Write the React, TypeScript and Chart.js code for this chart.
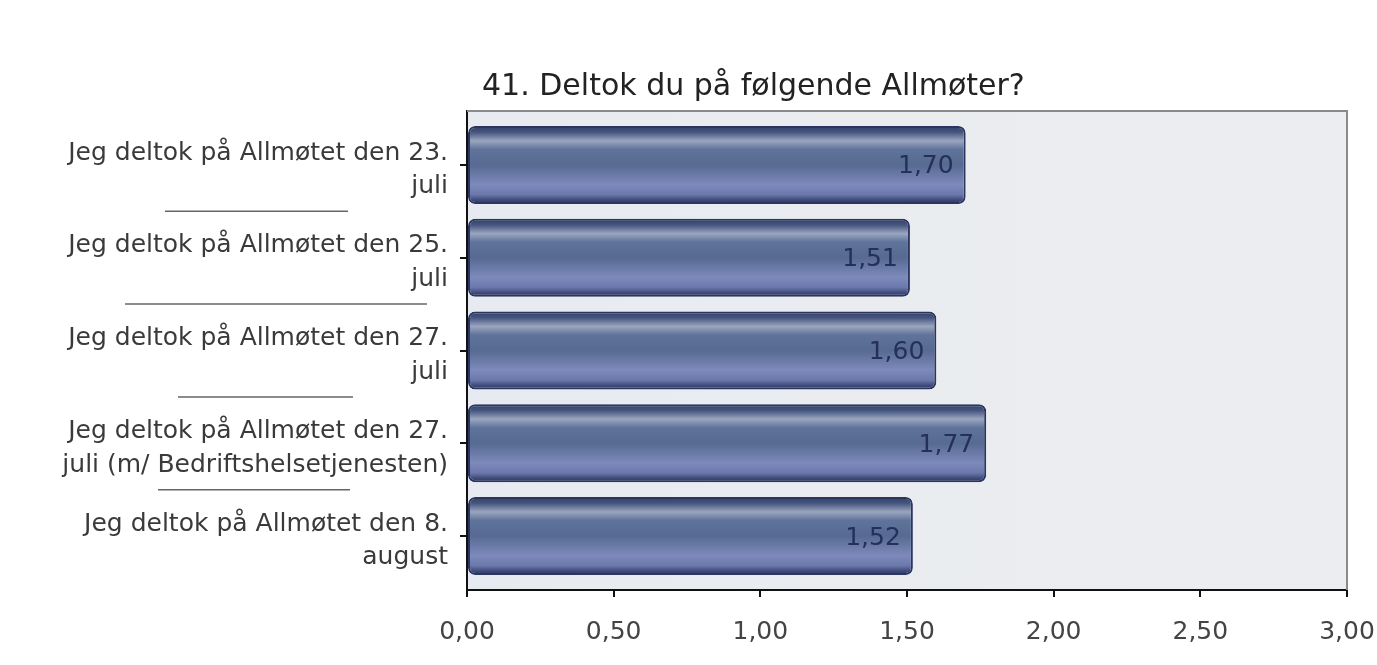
import React, { useEffect, useRef } from "react";
import { Chart, registerables } from "chart.js";

Chart.register(...registerables);

const TITLE = "41. Deltok du på følgende Allmøter?";
const CATEGORIES: string[][] = [
  ["Jeg deltok på Allmøtet den 23.", "juli"],
  ["Jeg deltok på Allmøtet den 25.", "juli"],
  ["Jeg deltok på Allmøtet den 27.", "juli"],
  ["Jeg deltok på Allmøtet den 27.", "juli (m/ Bedriftshelsetjenesten)"],
  ["Jeg deltok på Allmøtet den 8.", "august"],
];
const VALUES = [1.7, 1.51, 1.6, 1.77, 1.52];
const X_TICKS = [0, 0.5, 1, 1.5, 2, 2.5, 3];

const FONT = "'DejaVu Sans', 'Liberation Sans', sans-serif";
const fmt = (v: number) => v.toFixed(2).replace(".", ",");

const bgPlugin = {
  id: "bgPlugin",
  beforeDraw(chart: any) {
    const { ctx, chartArea: a } = chart;
    if (!a) return;
    ctx.save();
    const g = ctx.createLinearGradient(a.left, 0, a.right, 0);
    g.addColorStop(0, "#e7ebf1");
    g.addColorStop(0.6, "#eaecef");
    g.addColorStop(1, "#ebedf0");
    ctx.fillStyle = g;
    ctx.fillRect(a.left, a.top, a.right - a.left, a.bottom - a.top);
    ctx.restore();
  },
  afterDraw(chart: any) {
    const { ctx, chartArea: a } = chart;
    if (!a) return;
    ctx.save();
    ctx.strokeStyle = "#8a8a8a";
    ctx.lineWidth = 2;
    ctx.beginPath();
    ctx.moveTo(a.left, a.top);
    ctx.lineTo(a.right, a.top);
    ctx.lineTo(a.right, a.bottom);
    ctx.stroke();
    ctx.fillStyle = "#222";
    ctx.font = `30px ${FONT}`;
    ctx.textBaseline = "alphabetic";
    ctx.textAlign = "left";
    ctx.fillText(TITLE, a.left + 15, a.top - 16);
    const y = chart.scales.y;
    const seps = [
      [165, 348],
      [125, 427],
      [178, 353],
      [158, 350],
    ];
    ctx.strokeStyle = "#666";
    ctx.lineWidth = 1.5;
    for (let i = 0; i < seps.length; i++) {
      const yy = (y.getPixelForValue(i) + y.getPixelForValue(i + 1)) / 2;
      ctx.beginPath();
      ctx.moveTo(seps[i][0], yy);
      ctx.lineTo(seps[i][1], yy);
      ctx.stroke();
    }
    const meta = chart.getDatasetMeta(0);
    ctx.fillStyle = "#24305a";
    ctx.font = `25px ${FONT}`;
    ctx.textAlign = "right";
    ctx.textBaseline = "middle";
    meta.data.forEach((el: any, i: number) => {
      ctx.fillText(fmt(VALUES[i]), el.x - 12, el.y + 2);
    });
    ctx.restore();
  },
};

function barGradient(c: any) {
  const chart = c.chart;
  const a = chart.chartArea;
  const ys = chart.scales && chart.scales.y;
  if (!a || !ys) return "#5a6898";
  const yc = ys.getPixelForValue(c.dataIndex);
  const h = Math.abs(ys.getPixelForValue(1) - ys.getPixelForValue(0)) * 0.84;
  const g = chart.ctx.createLinearGradient(0, yc - h / 2, 0, yc + h / 2);
  g.addColorStop(0, "#323f68");
  g.addColorStop(0.08, "#45557e");
  g.addColorStop(0.19, "#9aa6c0");
  g.addColorStop(0.3, "#60739a");
  g.addColorStop(0.5, "#566a92");
  g.addColorStop(0.75, "#7d8abb");
  g.addColorStop(0.88, "#6c78ac");
  g.addColorStop(0.95, "#3e4a78");
  g.addColorStop(1, "#2c3662");
  return g;
}

export default function App() {
  const ref = useRef<HTMLCanvasElement | null>(null);
  useEffect(() => {
    if (!ref.current) return;
    const chart = new Chart(ref.current, {
      type: "bar",
      data: {
        datasets: [
          {
            data: VALUES.map((v, i) => ({ x: v, y: i })),
            backgroundColor: barGradient,
            borderColor: "#2a3560",
            borderWidth: 2,
            borderRadius: 7,
            borderSkipped: false,
            barPercentage: 1,
            categoryPercentage: 0.84,
          },
        ],
      },
      options: {
        indexAxis: "y",
        animation: false,
        responsive: true,
        maintainAspectRatio: false,
        layout: { padding: { top: 111, right: 30, left: 0, bottom: 0 } },
        plugins: {
          legend: { display: false },
          title: { display: false },
          tooltip: { enabled: false },
        },
        scales: {
          x: {
            type: "linear",
            min: 0,
            max: 3,
            afterBuildTicks: (s: any) => {
              s.ticks = X_TICKS.map((v) => ({ value: v }));
            },
            afterFit: (s: any) => {
              s.height = 75;
              s.paddingLeft = 0;
              s.paddingRight = 0;
            },
            grid: {
              drawOnChartArea: false,
              drawTicks: true,
              tickLength: 7,
              color: "#111",
              lineWidth: 2,
            },
            border: { display: true, color: "#111", width: 2 },
            ticks: {
              color: "#444",
              padding: 20,
              font: { family: FONT, size: 25 },
              callback: (v: any) => fmt(Number(v)),
            },
          },
          y: {
            type: "linear",
            reverse: true,
            offset: false,
            min: -0.582,
            max: 4.582,
            afterBuildTicks: (s: any) => {
              s.ticks = CATEGORIES.map((_, i) => ({ value: i }));
            },
            afterFit: (s: any) => {
              s.width = 467;
              s.paddingTop = 0;
              s.paddingBottom = 0;
            },
            grid: {
              offset: false,
              drawOnChartArea: false,
              drawTicks: true,
              tickLength: 7,
              color: "#111",
              lineWidth: 2,
            },
            border: { display: true, color: "#111", width: 2 },
            ticks: {
              color: "#3a3a3a",
              padding: 12,
              autoSkip: false,
              labelOffset: 5,
              font: { family: FONT, size: 25, lineHeight: 1.35 },
              callback: (v: any) => CATEGORIES[Math.round(Number(v))],
            },
          },
        },
      },
      plugins: [bgPlugin],
    });
    return () => chart.destroy();
  }, []);
  return (
    <div style={{ position: "absolute", left: 0, top: 0, width: 1377, height: 665, background: "#fff" }}>
      <canvas ref={ref} />
    </div>
  );
}
